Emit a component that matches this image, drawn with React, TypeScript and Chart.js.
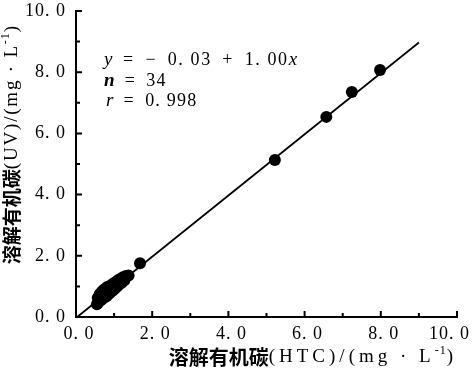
import React, { useEffect, useRef } from "react";
import { Chart, registerables } from "chart.js";
Chart.register(...registerables);

// Measured values: dissolved organic carbon by HTC (x) and by UV (y), mg/L
const htcValues = [
  0.55, 0.57, 0.6, 0.62, 0.65, 0.67, 0.7, 0.72, 0.74, 0.77, 0.8, 0.82, 0.85, 0.88, 0.9,
  0.93, 0.96, 0.99, 1.02, 1.05, 1.08, 1.1, 1.13, 1.16, 1.2, 1.23, 1.27, 1.31, 1.38,
  1.68, 5.22, 6.57, 7.24, 7.98,
];
const uvValues = [
  0.42, 0.62, 0.5, 0.74, 0.55, 0.82, 0.6, 0.88, 0.64, 0.92, 0.68, 0.98, 0.74, 1.0, 0.8,
  1.05, 0.86, 1.1, 0.92, 1.14, 1.0, 1.2, 1.06, 1.24, 1.12, 1.3, 1.2, 1.34, 1.36,
  1.76, 5.13, 6.54, 7.35, 8.07,
];
// Regression line end points (y = -0.03 + 1.00x)
const fitX = [0.03, 9.0];
const fitY = [0.0, 8.97];

const tickValues = [0, 2, 4, 6, 8, 10];
const tickLabels = ["0. 0", "2. 0", "4. 0", "6. 0", "8. 0", "10. 0"];
const minorTicks = [1, 3, 5, 7, 9];

const xTitleCn = "溶解有机碳";
const xTitleLat = "(HTC)/(mg · L";
const yTitleCn = "溶解有机碳";
const yTitleLat = "(UV)/(mg · L";
const sup = "-1";

const SERIF = '"Liberation Serif", "Times New Roman", serif';
const CJK = '"Noto Sans CJK SC", sans-serif';

type Seg = { t: string; font: string; dy?: number; ls?: number };

function drawRich(ctx: CanvasRenderingContext2D, segs: Seg[], x: number, y: number, align: "left" | "right" | "center") {
  const widths = segs.map((s) => {
    ctx.font = s.font;
    (ctx as any).letterSpacing = (s.ls ?? 0) + "px";
    return ctx.measureText(s.t).width;
  });
  const total = widths.reduce((a, b) => a + b, 0);
  let cx = align === "left" ? x : align === "right" ? x - total : x - total / 2;
  ctx.textAlign = "left";
  ctx.textBaseline = "middle";
  segs.forEach((s, i) => {
    ctx.font = s.font;
    (ctx as any).letterSpacing = (s.ls ?? 0) + "px";
    ctx.fillText(s.t, cx, y + (s.dy ?? 0));
    cx += widths[i];
  });
  (ctx as any).letterSpacing = "0px";
}

function titleSegs(cn: string, lat: string, cnSize: number, ls: number): Seg[] {
  return [
    { t: cn, font: `bold ${cnSize}px ${CJK}` },
    { t: lat, font: `19px ${SERIF}`, ls },
    { t: sup, font: `12px ${SERIF}`, dy: -6, ls: 1 },
    { t: ")", font: `19px ${SERIF}` },
  ];
}

const decorPlugin = {
  id: "decor",
  beforeDraw(chart: any) {
    (chart.ctx as any).letterSpacing = "1px";
  },
  afterDraw(chart: any) {
    const ctx: CanvasRenderingContext2D = chart.ctx;
    const { left, bottom } = chart.chartArea;
    const xs = chart.scales.x;
    const ys = chart.scales.y;
    ctx.save();
    (ctx as any).letterSpacing = "0px";
    ctx.strokeStyle = "#000";
    ctx.lineWidth = 2;
    ctx.beginPath();
    tickValues.forEach((v) => {
      const px = xs.getPixelForValue(v);
      ctx.moveTo(px, bottom);
      ctx.lineTo(px, bottom - 6);
      const py = ys.getPixelForValue(v);
      ctx.moveTo(left, py);
      ctx.lineTo(left + 6, py);
    });
    minorTicks.forEach((v) => {
      const px = xs.getPixelForValue(v);
      ctx.moveTo(px, bottom);
      ctx.lineTo(px, bottom - 4);
      const py = ys.getPixelForValue(v);
      ctx.moveTo(left, py);
      ctx.lineTo(left + 4, py);
    });
    ctx.stroke();

    ctx.fillStyle = "#000";
    // x tick labels (kept inside the canvas)
    ctx.font = `18px ${SERIF}`;
    (ctx as any).letterSpacing = "1px";
    ctx.textBaseline = "middle";
    ctx.textAlign = "left";
    tickValues.forEach((v, i) => {
      const w = ctx.measureText(tickLabels[i]).width;
      let cx = xs.getPixelForValue(v) + 3 - w / 2;
      if (cx + w > chart.width - 2) cx = chart.width - 2 - w;
      ctx.fillText(tickLabels[i], cx, bottom + 17);
    });
    (ctx as any).letterSpacing = "0px";

    // x-axis title
    drawRich(ctx, titleSegs(xTitleCn, xTitleLat, 20, 4), 453, 357, "right");
    // y-axis title
    ctx.save();
    ctx.translate(12, 145);
    ctx.rotate(-Math.PI / 2);
    drawRich(ctx, titleSegs(yTitleCn, yTitleLat, 19, 1.8), 0, 0, "center");
    ctx.restore();

    // regression annotation
    const it = `italic 19px ${SERIF}`;
    const rg = `18px ${SERIF}`;
    drawRich(ctx, [
      { t: "y", font: it },
      { t: "\u2002=\u2002−\u20020. 03\u2002+\u20021. 00", font: rg, ls: 1.6 },
      { t: "x", font: it },
    ], 104, 60, "left");
    drawRich(ctx, [
      { t: "n", font: `bold italic 19px ${SERIF}` },
      { t: "\u2002=\u200234", font: rg, ls: 1.2 },
    ], 104, 81, "left");
    drawRich(ctx, [
      { t: "r", font: it },
      { t: "\u2002=\u20020. 998", font: rg, ls: 1.2 },
    ], 106, 101, "left");
    ctx.restore();
  },
};

export default function App() {
  const ref = useRef<HTMLCanvasElement | null>(null);
  useEffect(() => {
    if (!ref.current) return;
    const points = htcValues.map((x, i) => ({ x, y: uvValues[i] }));
    const line = fitX.map((x, i) => ({ x, y: fitY[i] }));
    const tickFont = { family: SERIF, size: 18 };
    const chart = new Chart(ref.current, {
      type: "scatter",
      data: {
        datasets: [
          {
            type: "line",
            data: line,
            borderColor: "#000",
            borderWidth: 1.8,
            pointRadius: 0,
            fill: false,
          } as any,
          {
            data: points,
            backgroundColor: "#000",
            borderColor: "#000",
            pointRadius: 6,
            pointBorderWidth: 0,
          },
        ],
      },
      options: {
        animation: false,
        responsive: true,
        maintainAspectRatio: false,
        events: [],
        layout: { padding: { left: 0, top: 11, right: 15, bottom: 0 } },
        plugins: { legend: { display: false }, tooltip: { enabled: false } },
        scales: {
          x: {
            type: "linear",
            min: 0,
            max: 10,
            afterBuildTicks: (s: any) => {
              s.ticks = tickValues.map((v) => ({ value: v }));
            },
            afterFit: (s: any) => {
              s.height = 57;
              s.paddingLeft = 0;
              s.paddingRight = 0;
            },
            ticks: { display: false },
            grid: { display: false, drawTicks: false },
            border: { display: true, color: "#000", width: 2 },
          },
          y: {
            type: "linear",
            min: 0,
            max: 10,
            afterBuildTicks: (s: any) => {
              s.ticks = tickValues.map((v) => ({ value: v }));
            },
            afterFit: (s: any) => {
              s.width = 76;
              s.paddingTop = 0;
              s.paddingBottom = 0;
            },
            ticks: {
              color: "#000",
              font: tickFont,
              padding: 10,
              callback: (v: any) => tickLabels[tickValues.indexOf(Number(v))] ?? "",
            },
            grid: { display: false, drawTicks: false },
            border: { display: true, color: "#000", width: 2 },
          },
        },
      },
      plugins: [decorPlugin],
    });
    return () => chart.destroy();
  }, []);
  return (
    <div style={{ position: "fixed", left: 0, top: 0, width: 472, height: 374, background: "#fff" }}>
      <canvas ref={ref} />
    </div>
  );
}
